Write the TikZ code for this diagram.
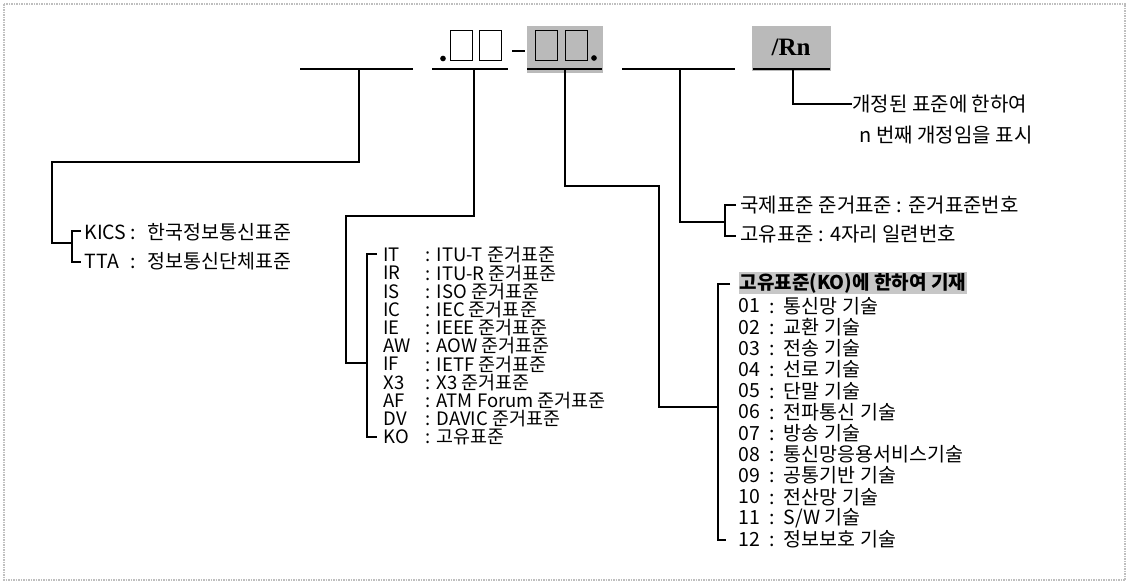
\documentclass[tikz,border=0pt]{standalone}
\usepackage{fontspec}
\setmainfont{Noto Sans CJK KR}
\newfontfamily\rnfont{Liberation Serif}
\usetikzlibrary{positioning}

\begin{document}
\begin{tikzpicture}[x=1pt, y=-1pt, line width=1.1pt,
    lbl/.style={inner sep=0pt, anchor=west},
    orgtxt/.style={lbl, font=\fontsize{19.5}{19.5}\selectfont},
    stdtxt/.style={lbl, font=\fontsize{18.5}{18.5}\selectfont},
    areatxt/.style={lbl, font=\fontsize{19.5}{19.5}\selectfont},
    notetxt/.style={lbl, font=\fontsize{20}{20}\selectfont},
    slot/.style={rectangle, draw, line width=1pt, minimum width=22pt, minimum height=30pt, inner sep=0pt},
    shade/.style={rectangle, fill=black!27, draw=none, inner sep=0pt}]
		\useasboundingbox (0,0) rectangle (1129,584);
		\draw[black!25, densely dotted, line width=1.5pt] (4,4) rectangle (1125,580); % scan frame

		% number pattern on top
		\node (grp3) at (565,49.5) [shade, minimum width=76pt, minimum height=47pt] {};
		\node (grp5) at (791.5,48.5) [shade, minimum width=79pt, minimum height=45pt] {};
		\node (dot1) at (443,58.5) [circle, fill, inner sep=2pt] {};
		\node (sq1) at (461.5,45) [slot] {};
		\node (sq2) at (490.5,45) [slot] {};
		\node (sq3) at (546.5,45) [slot] {};
		\node (sq4) at (576,45) [slot] {};
		\node (dot2) at (594,58) [circle, fill, inner sep=2pt] {};
		\node (rn) at (791,47) {\rnfont\bfseries\fontsize{25}{25}\selectfont /Rn};
		\coordinate (dsh1) at (512,51);
		\coordinate (dsh2) at (525,51);
		\draw (dsh1) -- (dsh2);

		% blanks
		\coordinate (b1l) at (300,69); \coordinate (b1r) at (413,69);
		\coordinate (b2l) at (432,69); \coordinate (b2r) at (508,69);
		\coordinate (b3l) at (527,69); \coordinate (b3r) at (602,69);
		\coordinate (b4l) at (622,69); \coordinate (b4r) at (735,69);
		\coordinate (b5l) at (753,69); \coordinate (b5r) at (830,69);
		\draw (b1l) -- (b1r);
		\draw (b2l) -- (b2r);
		\draw (b3l) -- (b3r);
		\draw (b4l) -- (b4r);
		\draw (b5l) -- (b5r);

		% organisation
		\node (kics) at (84,232) [orgtxt] {KICS};
		\node (kicsd) at (130,232) [orgtxt] {:\hspace{12pt}한국정보통신표준};
		\node (tta) at (84,261) [orgtxt] {TTA};
		\node (ttad) at (130,261) [orgtxt] {:\hspace{12pt}정보통신단체표준};

		% category
		\node (it) at (383,255) [stdtxt] {IT};
		\node (itd) at (425,255) [stdtxt] {:\hspace{6pt}ITU-T 준거표준};
		\node (ir) at (383,273.2) [stdtxt] {IR};
		\node (ird) at (425,273.2) [stdtxt] {:\hspace{6pt}ITU-R 준거표준};
		\node (is) at (383,291.4) [stdtxt] {IS};
		\node (isd) at (425,291.4) [stdtxt] {:\hspace{6pt}ISO 준거표준};
		\node (ic) at (383,309.6) [stdtxt] {IC};
		\node (icd) at (425,309.6) [stdtxt] {:\hspace{6pt}IEC 준거표준};
		\node (ie) at (383,327.8) [stdtxt] {IE};
		\node (ied) at (425,327.8) [stdtxt] {:\hspace{6pt}IEEE 준거표준};
		\node (aw) at (383,346) [stdtxt] {AW};
		\node (awd) at (425,346) [stdtxt] {:\hspace{6pt}AOW 준거표준};
		\node (if) at (383,364.2) [stdtxt] {IF};
		\node (ifd) at (425,364.2) [stdtxt] {:\hspace{6pt}IETF 준거표준};
		\node (x3) at (383,382.4) [stdtxt] {X3};
		\node (x3d) at (425,382.4) [stdtxt] {:\hspace{6pt}X3 준거표준};
		\node (af) at (383,400.6) [stdtxt] {AF};
		\node (afd) at (425,400.6) [stdtxt] {:\hspace{6pt}ATM Forum 준거표준};
		\node (dv) at (383,418.8) [stdtxt] {DV};
		\node (dvd) at (425,418.8) [stdtxt] {:\hspace{6pt}DAVIC 준거표준};
		\node (ko) at (383,437) [stdtxt] {KO};
		\node (kod) at (425,437) [stdtxt] {:\hspace{6pt}고유표준};

		% technical area
		\node (kohd) at (738,283) [areatxt, fill=black!22, inner sep=1pt, font=\fontsize{19}{19}\selectfont] {\bfseries 고유표준(KO)에 한하여 기재};
		\node (a01) at (738,306) [areatxt] {01};
		\node (a01d) at (769,306) [areatxt] {:\hspace{9pt}통신망 기술};
		\node (a02) at (738,327.2) [areatxt] {02};
		\node (a02d) at (769,327.2) [areatxt] {:\hspace{9pt}교환 기술};
		\node (a03) at (738,348.4) [areatxt] {03};
		\node (a03d) at (769,348.4) [areatxt] {:\hspace{9pt}전송 기술};
		\node (a04) at (738,369.6) [areatxt] {04};
		\node (a04d) at (769,369.6) [areatxt] {:\hspace{9pt}선로 기술};
		\node (a05) at (738,390.8) [areatxt] {05};
		\node (a05d) at (769,390.8) [areatxt] {:\hspace{9pt}단말 기술};
		\node (a06) at (738,412) [areatxt] {06};
		\node (a06d) at (769,412) [areatxt] {:\hspace{9pt}전파통신 기술};
		\node (a07) at (738,433.2) [areatxt] {07};
		\node (a07d) at (769,433.2) [areatxt] {:\hspace{9pt}방송 기술};
		\node (a08) at (738,454.4) [areatxt] {08};
		\node (a08d) at (769,454.4) [areatxt] {:\hspace{9pt}통신망응용서비스기술};
		\node (a09) at (738,475.6) [areatxt] {09};
		\node (a09d) at (769,475.6) [areatxt] {:\hspace{9pt}공통기반 기술};
		\node (a10) at (738,496.8) [areatxt] {10};
		\node (a10d) at (769,496.8) [areatxt] {:\hspace{9pt}전산망 기술};
		\node (a11) at (738,518) [areatxt] {11};
		\node (a11d) at (769,518) [areatxt] {:\hspace{9pt}S/W 기술};
		\node (a12) at (738,539.2) [areatxt] {12};
		\node (a12d) at (769,539.2) [areatxt] {:\hspace{9pt}정보보호 기술};

		% serial number and revision
		\node (intl) at (740,205) [notetxt] {국제표준 준거표준 : 준거표준번호};
		\node (own) at (740,234) [notetxt] {고유표준 : 4자리 일련번호};
		\node (rev1) at (852,104) [notetxt] {개정된 표준에 한하여};
		\node (rev2) at (859,135) [notetxt] {n 번째 개정임을 표시};

		% trees
		\coordinate (t1) at (359,69); \coordinate (j1) at (52,162); \coordinate (k1) at (72,243);
		\coordinate (t2) at (474,69); \coordinate (j2) at (346,216); \coordinate (k2) at (367,363);
		\coordinate (t3) at (565,69); \coordinate (j3) at (659,186); \coordinate (k3) at (718,407);
		\coordinate (t4) at (680,69); \coordinate (k4) at (725,222);
		\coordinate (t5) at (793,69);
		\draw (t1) |- (j1) |- (k1);
		\draw (t2) |- (j2) |- (k2);
		\draw (t3) |- (j3) |- (k3);
		\draw (t4) |- (k4);
		\draw (t5) |- (rev1.west);

		% brackets
		\draw (81,231) -- (72,231) -- (72,262) -- (81,262);
		\draw (377,254) -- (367,254) -- (367,437) -- (377,437);
		\draw (730,284) -- (718,284) -- (718,540) -- (726,540);
		\draw (736,205) -- (725,205) -- (725,236) -- (736,236);
	\end{tikzpicture}
\end{document}
